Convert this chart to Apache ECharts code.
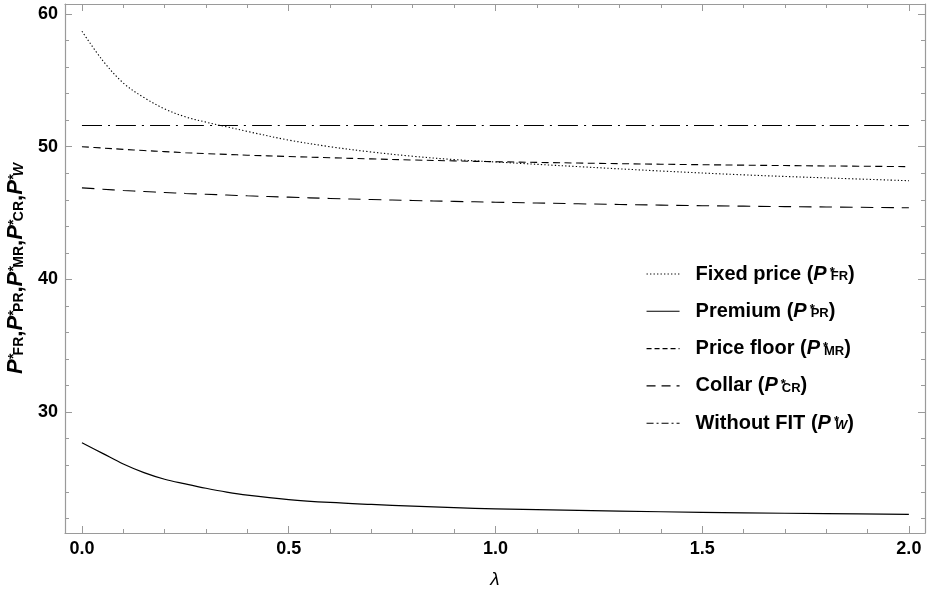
<!DOCTYPE html>
<html>
<head>
<meta charset="utf-8">
<script src="https://cdn.jsdelivr.net/npm/echarts@6/dist/echarts.min.js"></script>
<style>
html,body{margin:0;padding:0;background:#fff;}
#c{width:928px;height:596px;}
</style>
</head>
<body>
<div id="c"></div>
<script>
// ---- data ----
const lambda = [0, 0.05, 0.1, 0.15, 0.2, 0.25, 0.3, 0.35, 0.4, 0.5, 0.6, 0.7, 0.8, 0.9, 1.0, 1.2, 1.4, 1.6, 1.8, 2.0];
const fixedPrice = [58.7, 56.5, 54.8, 53.7, 52.85, 52.25, 51.85, 51.5, 51.15, 50.5, 50.0, 49.6, 49.28, 49.03, 48.85, 48.5, 48.17, 47.88, 47.65, 47.44];
const premium    = [27.7, 26.9, 26.1, 25.45, 24.95, 24.6, 24.27, 23.98, 23.75, 23.42, 23.2, 23.05, 22.92, 22.81, 22.72, 22.6, 22.5, 22.42, 22.36, 22.3];
const priceFloor = [50.0, 49.9, 49.8, 49.71, 49.63, 49.55, 49.48, 49.42, 49.36, 49.26, 49.17, 49.08, 49.0, 48.93, 48.87, 48.77, 48.68, 48.61, 48.55, 48.5];
const collar     = [46.9, 46.8, 46.7, 46.62, 46.55, 46.48, 46.42, 46.36, 46.3, 46.2, 46.1, 46.02, 45.95, 45.88, 45.82, 45.7, 45.6, 45.52, 45.46, 45.4];
const withoutFIT = [51.6, 51.6, 51.6, 51.6, 51.6, 51.6, 51.6, 51.6, 51.6, 51.6, 51.6, 51.6, 51.6, 51.6, 51.6, 51.6, 51.6, 51.6, 51.6, 51.6];

const xMajorTicks = [0, 0.5, 1.0, 1.5, 2.0];
const xMinorTicks = [0, 0.1, 0.2, 0.3, 0.4, 0.5, 0.6, 0.7, 0.8, 0.9, 1.0, 1.1, 1.2, 1.3, 1.4, 1.5, 1.6, 1.7, 1.8, 1.9, 2.0];
const yMajorTicks = [30, 40, 50, 60];
const yMinorTicks = [22, 24, 26, 28, 30, 32, 34, 36, 38, 40, 42, 44, 46, 48, 50, 52, 54, 56, 58, 60];

const seriesNames = ['Fixed price', 'Premium', 'Price floor', 'Collar', 'Without FIT'];
const seriesSubs  = ['FR', 'PR', 'MR', 'CR', 'W'];
const seriesData  = [fixedPrice, premium, priceFloor, collar, withoutFIT];

// ---- styling ----
const FONT = '"Liberation Sans", Arial, sans-serif';
const frameColor = '#9a9a9a';
const dashTypes = [[1.3, 2.2], 'solid', [7, 4.5], [12.5, 8], [20, 6, 2, 6]];
const legendDash = [[1.3, 2.2], 'solid', [5, 3], [9, 6], [7, 3, 2, 3]];
const X_MIN = -0.041, X_MAX = 2.039, Y_MIN = 20.9, Y_MAX = 60.75;

const rich = {
  t:   {fontFamily: FONT, fontWeight: 'bold', fontSize: 20, color: '#000', height: 26, verticalAlign: 'middle'},
  p:   {fontFamily: FONT, fontWeight: 'bold', fontStyle: 'italic', fontSize: 20, color: '#000', height: 26, verticalAlign: 'middle'},
  sup: {fontFamily: FONT, fontWeight: 'bold', fontSize: 13, color: '#000', width: 0, height: 23, verticalAlign: 'top', padding: [0, 0, 0, 3]},
  sub: {fontFamily: FONT, fontWeight: 'bold', fontSize: 13, color: '#000', height: 21, verticalAlign: 'bottom', padding: [0, 0, 0, 1]},
  subi:{fontFamily: FONT, fontWeight: 'bold', fontStyle: 'italic', fontSize: 13, color: '#000', height: 21, verticalAlign: 'bottom', padding: [0, 0, 0, 1]}
};

function pSym(sub) {
  const key = sub === 'W' ? 'subi' : 'sub';
  return '{p|P}{sup|*}{' + key + '|' + sub + '}';
}

const yRich = {
  p:   {fontFamily: FONT, fontWeight: 'bold', fontStyle: 'italic', fontSize: 22, color: '#000', height: 29, verticalAlign: 'middle'},
  c:   {fontFamily: FONT, fontWeight: 'bold', fontSize: 22, color: '#000', height: 29, verticalAlign: 'middle'},
  sup: {fontFamily: FONT, fontWeight: 'bold', fontSize: 14, color: '#000', width: 0, height: 25, verticalAlign: 'top', padding: [0, 0, 0, 3]},
  sub: {fontFamily: FONT, fontWeight: 'bold', fontSize: 14, color: '#000', height: 23, verticalAlign: 'bottom', padding: [0, 0, 0, 1]},
  subi:{fontFamily: FONT, fontWeight: 'bold', fontStyle: 'italic', fontSize: 14, color: '#000', height: 23, verticalAlign: 'bottom', padding: [0, 0, 0, 1]}
};
const yName = seriesSubs.map(function (s) {
  return '{p|P}{sup|*}{' + (s === 'W' ? 'subi' : 'sub') + '|' + s + '}';
}).join('{c|,}');

function xAxisDef(pos, ticks, len, showLabel, showLine) {
  return {
    type: 'value', position: pos, min: X_MIN, max: X_MAX, gridIndex: 0,
    axisLine: {show: showLine, onZero: false, lineStyle: {color: frameColor, width: 1.2}},
    axisTick: {show: true, inside: true, length: len, customValues: ticks, lineStyle: {color: frameColor, width: 1}},
    axisLabel: {show: showLabel, customValues: xMajorTicks, margin: 7, fontFamily: FONT, fontWeight: 'bold', fontSize: 18, color: '#000',
      formatter: function (v) { return v.toFixed(1); }},
    splitLine: {show: false}
  };
}
function yAxisDef(pos, ticks, len, showLabel, showLine, extra) {
  const a = {
    type: 'value', position: pos, min: Y_MIN, max: Y_MAX, gridIndex: 0,
    axisLine: {show: showLine, onZero: false, lineStyle: {color: frameColor, width: 1.2}},
    axisTick: {show: true, inside: true, length: len, customValues: ticks, lineStyle: {color: frameColor, width: 1}},
    axisLabel: {show: showLabel, customValues: yMajorTicks, margin: 7, fontFamily: FONT, fontWeight: 'bold', fontSize: 18, color: '#000'},
    splitLine: {show: false}
  };
  return Object.assign(a, extra || {});
}

const series = seriesNames.map(function (n, i) {
  return {
    name: n, type: 'line', xAxisIndex: 0, yAxisIndex: 0,
    data: lambda.map(function (x, j) { return [x, seriesData[i][j]]; }),
    smooth: 0.35, showSymbol: false, symbol: 'none', animation: false,
    lineStyle: {color: '#000', width: i === 1 ? 1.2 : 1.1, type: dashTypes[i]},
    itemStyle: {color: '#000'}
  };
});

const legends = seriesNames.map(function (n, i) {
  return {
    data: [{name: n}], left: 641, top: 259 + 37.3 * i, orient: 'vertical',
    itemWidth: 33, itemHeight: 14, itemGap: 0, selectedMode: false,
    formatter: function (name) { return '{t|' + name + ' (}' + pSym(seriesSubs[i]) + '{t|)}'; },
    textStyle: {rich: rich, padding: [0, 0, 0, 11]},
    itemStyle: {color: 'rgba(0,0,0,0)', borderWidth: 0, opacity: 0},
    lineStyle: {type: legendDash[i], width: 1.1, color: '#000', opacity: 1}
  };
});

const option = {
  animation: false,
  backgroundColor: '#fff',
  grid: {left: 65, right: 3, top: 4, bottom: 63, containLabel: false, outerBoundsMode: 'none'},
  xAxis: [
    Object.assign(xAxisDef('bottom', xMajorTicks, 7, true, true), {
      name: 'λ', nameLocation: 'middle', nameGap: 37,
      nameTextStyle: {fontFamily: FONT, fontStyle: 'italic', fontSize: 19, color: '#000'}
    }),
    xAxisDef('bottom', xMinorTicks, 4, false, false),
    xAxisDef('top', xMajorTicks, 7, false, true),
    xAxisDef('top', xMinorTicks, 4, false, false)
  ],
  yAxis: [
    yAxisDef('left', yMajorTicks, 7, true, true, {
      name: yName, nameLocation: 'middle', nameGap: 27, nameRotate: 90,
      nameTextStyle: {rich: yRich}
    }),
    yAxisDef('left', yMinorTicks, 4, false, false),
    yAxisDef('right', yMajorTicks, 7, false, true),
    yAxisDef('right', yMinorTicks, 4, false, false)
  ],
  legend: legends,
  series: series
};

const chart = echarts.init(document.getElementById('c'), null, {renderer: 'canvas'});
chart.setOption(option);
</script>
</body>
</html>
